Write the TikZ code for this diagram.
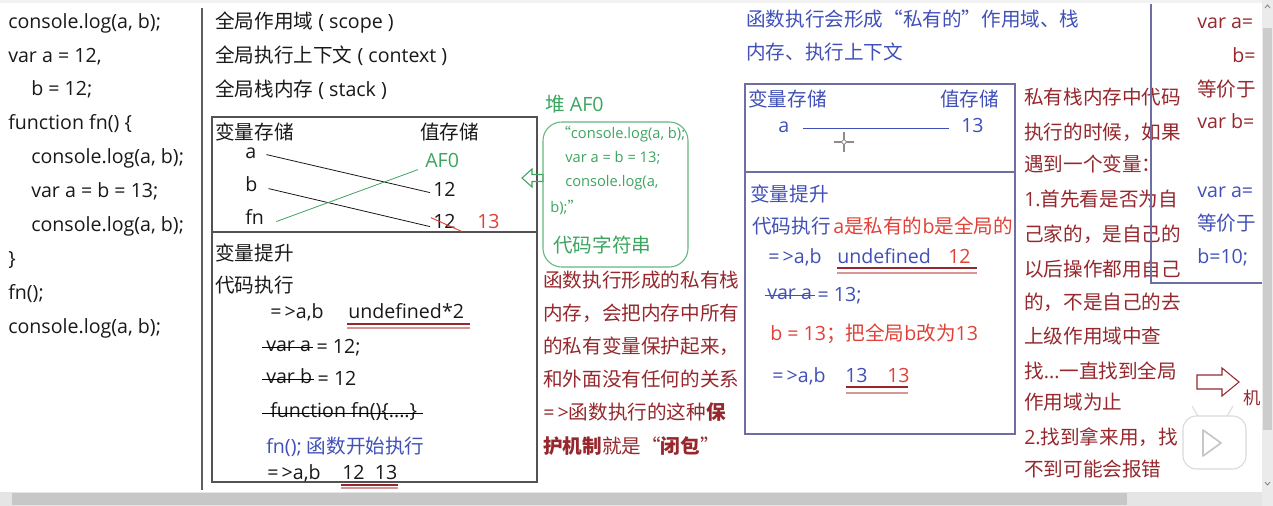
\documentclass[tikz,border=0pt]{standalone}
\usepackage{fontspec}
\setmainfont{Open Sans}
\newfontfamily\zhfont{Noto Sans CJK SC}
\XeTeXinterchartokenstate=1
\newXeTeXintercharclass\zhclass
\newcount\zhcc
\zhcc="4E00
\loop \XeTeXcharclass\zhcc=\zhclass \advance\zhcc by 1 \ifnum\zhcc<"A000 \repeat
\zhcc="3000
\loop \XeTeXcharclass\zhcc=\zhclass \advance\zhcc by 1 \ifnum\zhcc<"3040 \repeat
\zhcc="FF00
\loop \XeTeXcharclass\zhcc=\zhclass \advance\zhcc by 1 \ifnum\zhcc<"FFF0 \repeat
\XeTeXcharclass"201C=\zhclass
\XeTeXcharclass"201D=\zhclass
\XeTeXinterchartoks 0 \zhclass = {\zhfont}
\XeTeXinterchartoks 4095 \zhclass = {\zhfont}
\XeTeXinterchartoks \zhclass 0 = {\rmfamily}
\XeTeXinterchartoks \zhclass 4095 = {\rmfamily}
\usetikzlibrary{calc}
\definecolor{ink}{RGB}{25,25,25}
\definecolor{grn}{RGB}{60,165,95}
\definecolor{rd}{RGB}{225,65,55}
\definecolor{drd}{RGB}{150,40,45}
\definecolor{pnk}{RGB}{215,150,150}
\definecolor{blu}{RGB}{65,80,185}
\definecolor{bxb}{RGB}{110,110,165}
\tikzset{
  t/.style={anchor=west,inner sep=0pt,text height=0.8em,text depth=0.2em,yshift=-1.2pt,font=\fontsize{14.7}{17}\selectfont,text=ink},
  ts/.style={t,font=\fontsize{11}{13}\selectfont,text=grn},
  frame/.style={draw=ink!75,line width=0.8pt},
  bframe/.style={draw=bxb,line width=0.8pt},
  strike/.style={line width=0.8pt},
  ul1/.style={draw=drd,line width=0.8pt},
  ul2/.style={draw=pnk,line width=0.8pt},
}
\begin{document}
\begin{tikzpicture}[x=0.75pt,y=-0.75pt]
\useasboundingbox (0,0) rectangle (1273,506);
\fill[white] (0,0) rectangle (1273,506);
% ---------- left code column ----------
\draw[ink!70,line width=0.8pt] (202,8) -- (202,490);
\node[t] (c1) at (8,23) {console.log(a, b);};
\node[t] (c2) at (8,57) {var a = 12,};
\node[t] (c3) at (31,90) {b = 12;};
\node[t] (c4) at (8,124) {function fn() \{};
\node[t] (c5) at (31,158) {console.log(a, b);};
\node[t] (c6) at (31,192) {var a = b = 13;};
\node[t] (c7) at (31,226) {console.log(a, b);};
\node[t] (c8) at (8,260) {\}};
\node[t] (c9) at (8,294) {fn();};
\node[t] (c10) at (8,328) {console.log(a, b);};
% ---------- global ----------
\node[t] (g1) at (215,23) {全局作用域 ( scope )};
\node[t] (g2) at (215,57) {全局执行上下文 ( context )};
\node[t] (g3) at (215,91) {全局栈内存 ( stack )};
\draw[frame] (212,117) rectangle (537,482);
\draw[frame] (212,232) -- (537,232);
\node[t] (vs) at (215,134) {变量存储};
\node[t] (ws) at (420,134) {值存储};
\node[t] (va) at (245,153) {a};
\node[t] (vb) at (245,186) {b};
\node[t] (vf) at (245,219) {fn};
\node[t,text=grn] (af) at (425,162) {AF0};
\node[t] (v1) at (433,191) {12};
\node[t] (v2) at (433,223) {12};
\node[t,text=rd] (v3) at (477,223) {13};
\draw[ink,line width=0.6pt] ($(va.east)+(10,0)$) -- ($(v1.west)+(-3,0)$);
\draw[ink,line width=0.6pt] ($(vb.east)+(11,1)$) -- ($(v2.west)+(-3,2)$);
\draw[grn,line width=0.6pt] ($(vf.east)+(12,1)$) -- ($(af.west)+(-7,6)$);
\draw[rd,line width=0.7pt] ($(v2.north west)+(-2,0)$) -- ($(v2.south east)+(6,0)$);
\node[t] (h1) at (215,255) {变量提升};
\node[t] (h2) at (215,287) {代码执行};
\node[t] (r1) at (270,313) {=\,>a,b};
\node[t] (r1v) at (348,313) {undefined*2};
\draw[ul1] (347,324) -- (470,324);
\draw[ul2] (347,328) -- (470,328);
\node[t] (s1) at (266,346) {var a};
\node[t] (s1b) at (s1.east) {\ = 12;};
\draw[strike] ($(s1.west)+(-4,0)$) -- ($(s1.east)+(2,0)$);
\node[t] (s2) at (266,378) {var b};
\node[t] (s2b) at (s2.east) {\ = 12};
\draw[strike] ($(s2.west)+(-4,0)$) -- ($(s2.east)+(2,0)$);
\node[t] (s3) at (270,412) {function fn()\{....\}};
\draw[strike] ($(s3.west)+(-8,0)$) -- ($(s3.east)+(6,0)$);
\node[t,text=blu] (s4) at (266,448) {fn();\ 函数开始执行};
\node[t] (r2) at (267,474) {=\,>a,b};
\node[t] (r2v) at (342,474) {12\ \ 13};
\draw[ul1] (341,485) -- (398,485);
\draw[ul2] (341,488) -- (398,488);
% ---------- heap ----------
\draw[grn,line width=0.8pt] (522,178) -- (532,169) -- (532,174.5) -- (543,174.5) -- (543,181.5) -- (532,181.5) -- (532,187) -- cycle;
\node[t,text=grn] (hp) at (545,106) {堆 AF0};
\draw[grn!80,line width=0.8pt,rounded corners=14pt] (543,122) rectangle (688,267);
\node[ts] (k1) at (556,133) {“console.log(a, b);};
\node[ts] (k2) at (565,157) {var a = b = 13;};
\node[ts] (k3) at (565,181) {console.log(a,};
\node[ts] (k4) at (550,207) {b);”};
\node[t,text=grn] (k5) at (553,247) {代码字符串};
% ---------- red paragraph ----------
\node[t,text=drd] (p1) at (543,282) {函数执行形成的私有栈};
\node[t,text=drd] (p2) at (543,315) {内存，会把内存中所有};
\node[t,text=drd] (p3) at (543,348) {的私有变量保护起来，};
\node[t,text=drd] (p4) at (543,381) {和外面没有任何的关系};
\node[t,text=drd] (p5) at (543,414) {=\,>函数执行的这种\textbf{保}};
\node[t,text=drd] (p6) at (543,448) {\textbf{护机制}就是“\textbf{闭包}”};
% ---------- private scope ----------
\node[t,text=blu] (f1) at (746,21) {函数执行会形成“私有的”作用域、栈};
\node[t,text=blu] (f2) at (746,54) {内存、执行上下文};
\draw[bframe] (745,84) rectangle (1015,434);
\draw[bframe] (745,172) -- (1015,172);
\node[t,text=blu] (pv) at (748,101) {变量存储};
\node[t,text=blu] (pw) at (940,101) {值存储};
\node[t,text=blu] (pa) at (778,127) {a};
\node[t,text=blu] (p13) at (961,127) {13};
\draw[blu,line width=0.6pt] ($(pa.east)+(14,0)$) -- ($(p13.west)+(-12,0)$);
% mouse cursor
\draw[black!45,line width=0.9pt] (834,142) -- (854,142) (844,132) -- (844,152);
\draw[black!45,fill=white,line width=0.6pt] (844,142) circle (2.2);
\node[t,text=blu] (ph) at (750,196) {变量提升};
\node[t,text=blu] (pe) at (752,228) {代码执行};
\node[t,text=rd] (pe2) at (833,228) {a是私有的b是全局的};
\node[t,text=blu] (q1) at (768,258) {=\,>a,b};
\node[t,text=blu] (q1v) at (837,258) {undefined};
\node[t,text=rd] (q1w) at (948,258) {12};
\draw[ul1] (837,268) -- (977,268);
\draw[ul2] (837,273) -- (977,273);
\node[t,text=blu] (q2) at (767,294) {var a};
\node[t,text=blu] (q2b) at (q2.east) {\ = 13;};
\draw[blu,strike] ($(q2.west)+(-2,0)$) -- ($(q2.east)+(3,0)$);
\node[t,text=rd] (q3) at (770,335) {b = 13；把全局b改为13};
\node[t,text=blu] (q4) at (772,377) {=\,>a,b};
\node[t,text=blu] (q4v) at (845,377) {13};
\node[t,text=rd] (q4w) at (887,377) {13};
\draw[ul1] (846,387) -- (908,387);
\draw[ul2] (846,393) -- (908,393);
% ---------- lookup rules ----------
\node[t,text=drd] (l1) at (1024,99) {私有栈内存中代码};
\node[t,text=drd] (l2) at (1024,134) {执行的时候，如果};
\node[t,text=drd] (l3) at (1024,166) {遇到一个变量：};
\node[t,text=drd] (l4) at (1024,201) {1.首先看是否为自};
\node[t,text=drd] (l5) at (1024,236) {己家的，是自己的};
\node[t,text=drd] (l6) at (1024,271) {以后操作都用自己};
\node[t,text=drd] (l7) at (1024,304) {的，不是自己的去};
\node[t,text=drd] (l8) at (1024,338) {上级作用域中查};
\node[t,text=drd] (l9) at (1024,373) {找...一直找到全局};
\node[t,text=drd] (l10) at (1024,404) {作用域为止};
\node[t,text=drd] (l11) at (1024,439) {2.找到拿来用，找};
\node[t,text=drd] (l12) at (1024,471) {不到可能会报错};
% ---------- far right ----------
\draw[bxb,line width=0.8pt] (1151,4) -- (1151,283) -- (1262,283);
\node[t,text=drd] (x1) at (1197,23) {var a=};
\node[t,text=drd] (x2) at (1232,57) {b=};
\node[t,text=drd] (x3) at (1197,91) {等价于};
\node[t,text=drd] (x4) at (1197,123) {var b=};
\node[t,text=blu] (x5) at (1197,192) {var a=};
\node[t,text=blu] (x6) at (1197,225) {等价于};
\node[t,text=blu] (x7) at (1197,258) {b=10;};
\draw[drd,line width=0.8pt] (1197,375) -- (1222,375) -- (1222,368) -- (1239,382) -- (1222,396) -- (1222,389) -- (1197,389) -- cycle;
\node[t,text=drd,font=\fontsize{13}{15}\selectfont] (x8) at (1243,399) {机};
% watermark
\draw[black!12,line width=0.9pt] (1199,418) -- (1192,406);
\draw[black!12,line width=0.9pt] (1226,418) -- (1233,406);
\draw[black!15,fill=white,line width=0.8pt,rounded corners=10pt] (1183,416) rectangle (1246,469);
\draw[black!22,line width=1.3pt,line join=round] (1203,430) -- (1221,443) -- (1203,456) -- cycle;
% ---------- scrollbars ----------
\fill[black!5] (0,0) rectangle (1262,3);
\fill[black!8] (1262,0) rectangle (1273,506);
\fill[black!20] (1263,28) rectangle (1272,430);
\fill[black!10] (0,492) rectangle (1262,506);
\fill[black!22] (12,493) rectangle (1127,505);
\draw[black!50,line width=0.6pt] (1265,8) -- (1267.5,5) -- (1270,8);
\draw[black!50,line width=0.6pt] (1265,482) -- (1267.5,485) -- (1270,482);
\end{tikzpicture}
\end{document}
